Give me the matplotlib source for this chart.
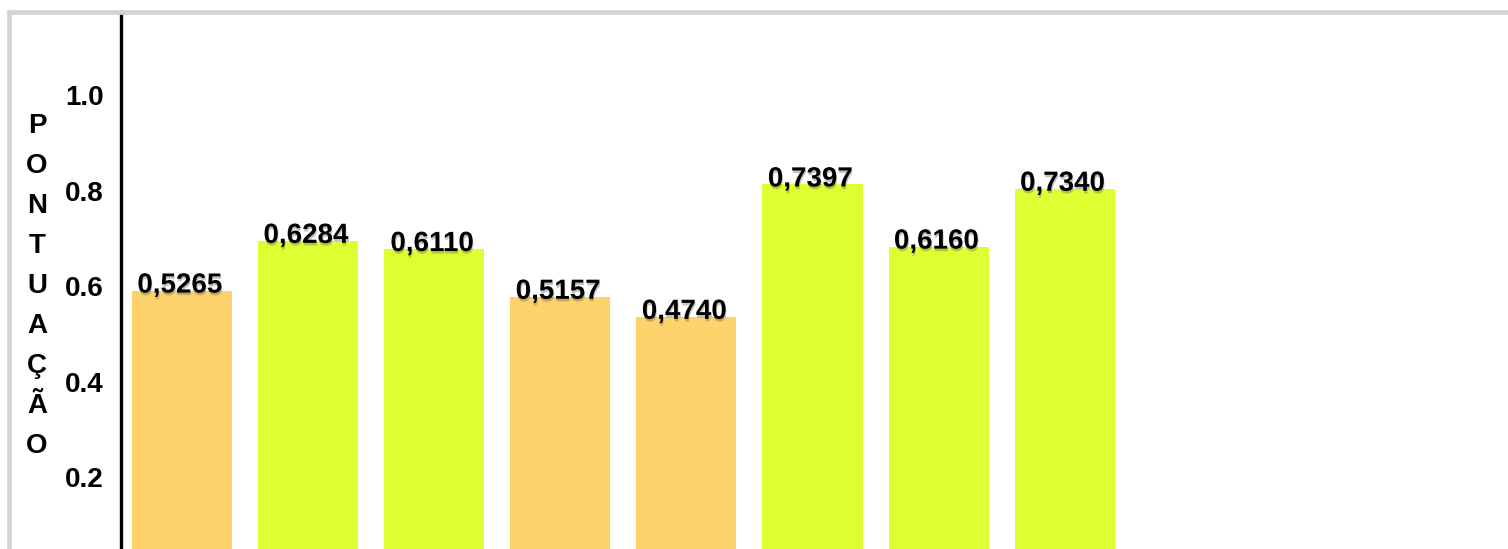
import matplotlib
matplotlib.use("Agg")
import matplotlib.pyplot as plt
import matplotlib.patheffects as pe
from matplotlib.patches import Rectangle

plt.rcParams['font.family'] = ['Liberation Sans', 'DejaVu Sans']

# ---- data ----
categories = ["1", "2", "3", "4", "5", "6", "7", "8"]
bar_heights = [0.591, 0.695, 0.678, 0.578, 0.536, 0.813, 0.683, 0.804]
bar_labels = [0.5265, 0.6284, 0.6110, 0.5157, 0.4740, 0.7397, 0.6160, 0.7340]
bar_colors = ["#FED26A", "#DFFF32", "#DFFF32", "#FED26A", "#FED26A",
              "#DFFF32", "#DFFF32", "#DFFF32"]
yticks = [0.2, 0.4, 0.6, 0.8, 1.0]
ylabel = "PONTUAÇÃO"

W, H = 1508, 549
fig = plt.figure(figsize=(W / 100, H / 100), dpi=100)
fig.patch.set_facecolor("white")

# gray frame (top and left visible)
fig.patches.append(Rectangle((9 / W, -0.1), 1.2, 1 - 12.5 / H + 0.1,
                             transform=fig.transFigure, fill=False,
                             edgecolor="#d3d3d3", linewidth=3.4, zorder=0))

ax_left = 121 / W
ax_top_px = 12
zero_px = 573
ax = fig.add_axes([ax_left, (H - zero_px) / H, 1 - ax_left, (zero_px - ax_top_px) / H])
unit_px = 478.0  # pixels per 1.0
ax.set_ylim(0, (zero_px - ax_top_px) / unit_px)
ax.set_xlim(-0.484, 10.516)

x = list(range(len(categories)))
bars = ax.bar(x, bar_heights, width=0.794, color=bar_colors, zorder=2)

FS = 20
for xi, h, lab in zip(x, bar_heights, bar_labels):
    ax.annotate(f"{lab:.4f}".replace(".", ","), (xi, h), xytext=(-1.5, -1.5),
                textcoords="offset points", ha="center", va="baseline",
                fontsize=FS, fontweight="bold", color="black", zorder=3,
                path_effects=[pe.SimplePatchShadow(offset=(0.5, -1.8), shadow_rgbFace="#555555", alpha=0.35),
                              pe.Normal()])

for s in ["top", "right", "bottom"]:
    ax.spines[s].set_visible(False)
ax.spines["left"].set_linewidth(2.4)
ax.spines["left"].set_color("black")
ax.set_xticks([])
ax.set_yticks(yticks)
ax.set_yticklabels([f"{t:.1f}" for t in yticks], fontsize=FS, fontweight="bold")
ax.tick_params(axis="y", length=0, pad=12.5)
ax.set_facecolor("none")

# vertical stacked y-axis label
for i, ch in enumerate(ylabel):
    ypx = 126 + 40 * i
    fig.text(37 / W, 1 - ypx / H, ch, ha="center", va="center",
             fontsize=FS, fontweight="bold", color="black")

fig.savefig("out.png", dpi=100, facecolor="white")
